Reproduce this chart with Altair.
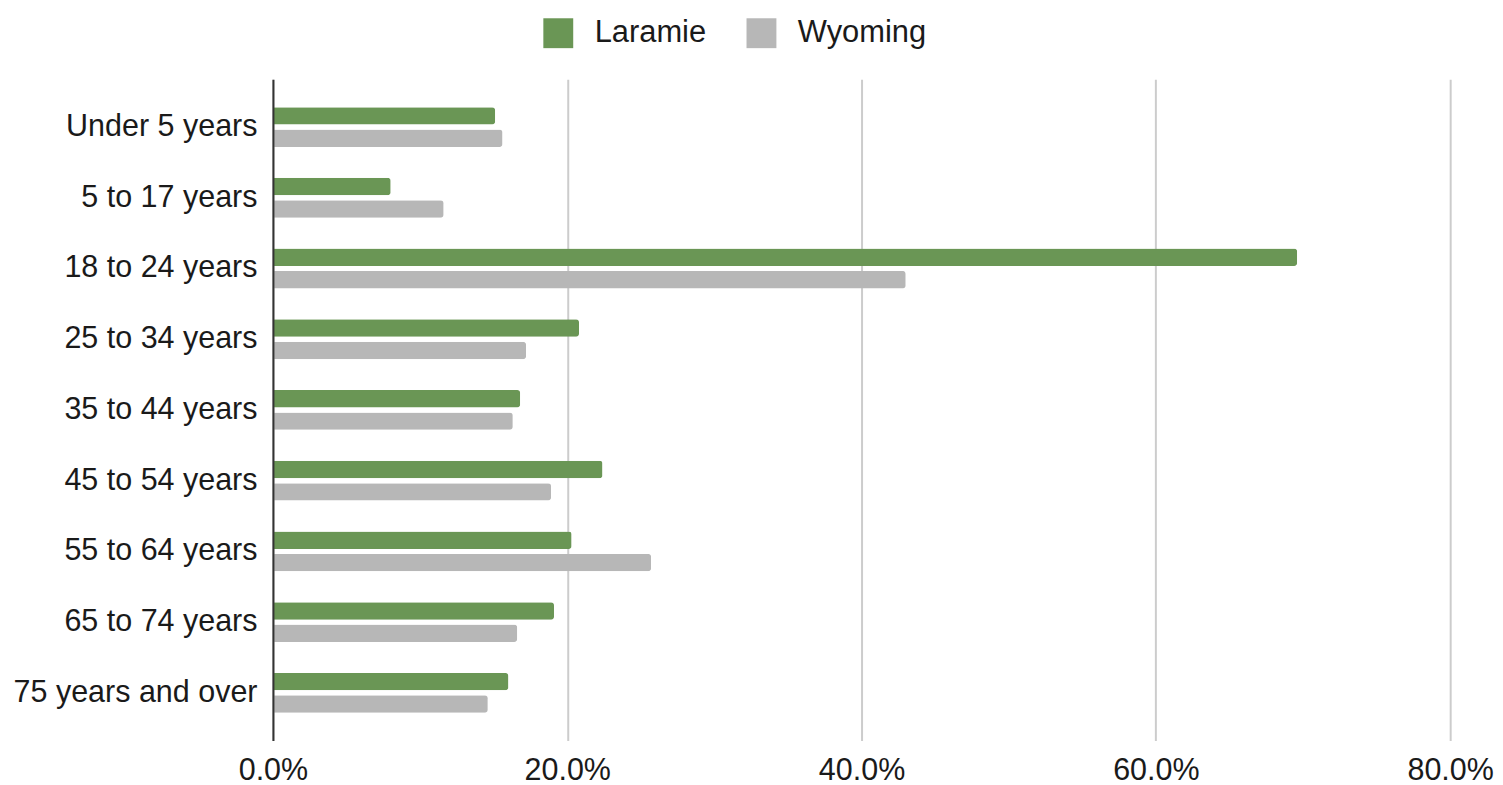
import altair as alt
import pandas as pd

categories = ["Under 5 years", "5 to 17 years", "18 to 24 years", "25 to 34 years",
              "35 to 44 years", "45 to 54 years", "55 to 64 years", "65 to 74 years",
              "75 years and over"]
laramie = [15.1, 8.0, 69.6, 20.8, 16.8, 22.4, 20.3, 19.1, 16.0]
wyoming = [15.6, 11.6, 43.0, 17.2, 16.3, 18.9, 25.7, 16.6, 14.6]
series = ["Laramie", "Wyoming"]
colors = ["#6a9655", "#b7b7b7"]
x_ticks = [0, 0.2, 0.4, 0.6, 0.8]

rows = []
for i, c in enumerate(categories):
    rows.append({"age": c, "series": series[0], "value": laramie[i] / 100})
    rows.append({"age": c, "series": series[1], "value": wyoming[i] / 100})
df = pd.DataFrame(rows)

FONT = "Liberation Sans"

chart = alt.Chart(df).mark_bar(cornerRadiusEnd=3).encode(
    y=alt.Y("age:N", sort=categories,
            scale=alt.Scale(paddingInner=0.437, paddingOuter=0.394),
            axis=alt.Axis(title=None, labelFontSize=30.6, labelColor="#1a1a1a", labelPadding=16,
                          labelFont=FONT, ticks=False, domainColor="#333", domainWidth=2,
                          grid=False, labelLimit=400, zindex=1)),
    yOffset=alt.YOffset("series:N", sort=series,
                        scale=alt.Scale(paddingInner=0.222, paddingOuter=0)),
    x=alt.X("value:Q", scale=alt.Scale(domain=[0, 0.8]),
            axis=alt.Axis(format=".1%", values=x_ticks, title=None, grid=True,
                          gridColor="#cccccc", gridWidth=2, domain=False, ticks=False,
                          labelFontSize=30.6, labelFont=FONT, labelColor="#1a1a1a",
                          labelPadding=15, labelFlush=False, labelAlign="center")),
    color=alt.Color("series:N", scale=alt.Scale(domain=series, range=colors),
                    legend=alt.Legend(title=None, orient="none", legendX=271, legendY=-62,
                                      direction="horizontal", symbolType="square",
                                      symbolSize=900, symbolStrokeWidth=0,
                                      labelFontSize=31, labelFont=FONT, labelColor="#1a1a1a",
                                      labelOffset=21, columnPadding=40)),
).properties(
    width=1182, height=664,
    autosize=alt.AutoSizeParams(type="none"),
    padding={"left": 266, "top": 70, "right": 45, "bottom": 42},
).configure_view(stroke=None)

chart.save("out.html", embed_options={"renderer": "svg", "actions": False})
